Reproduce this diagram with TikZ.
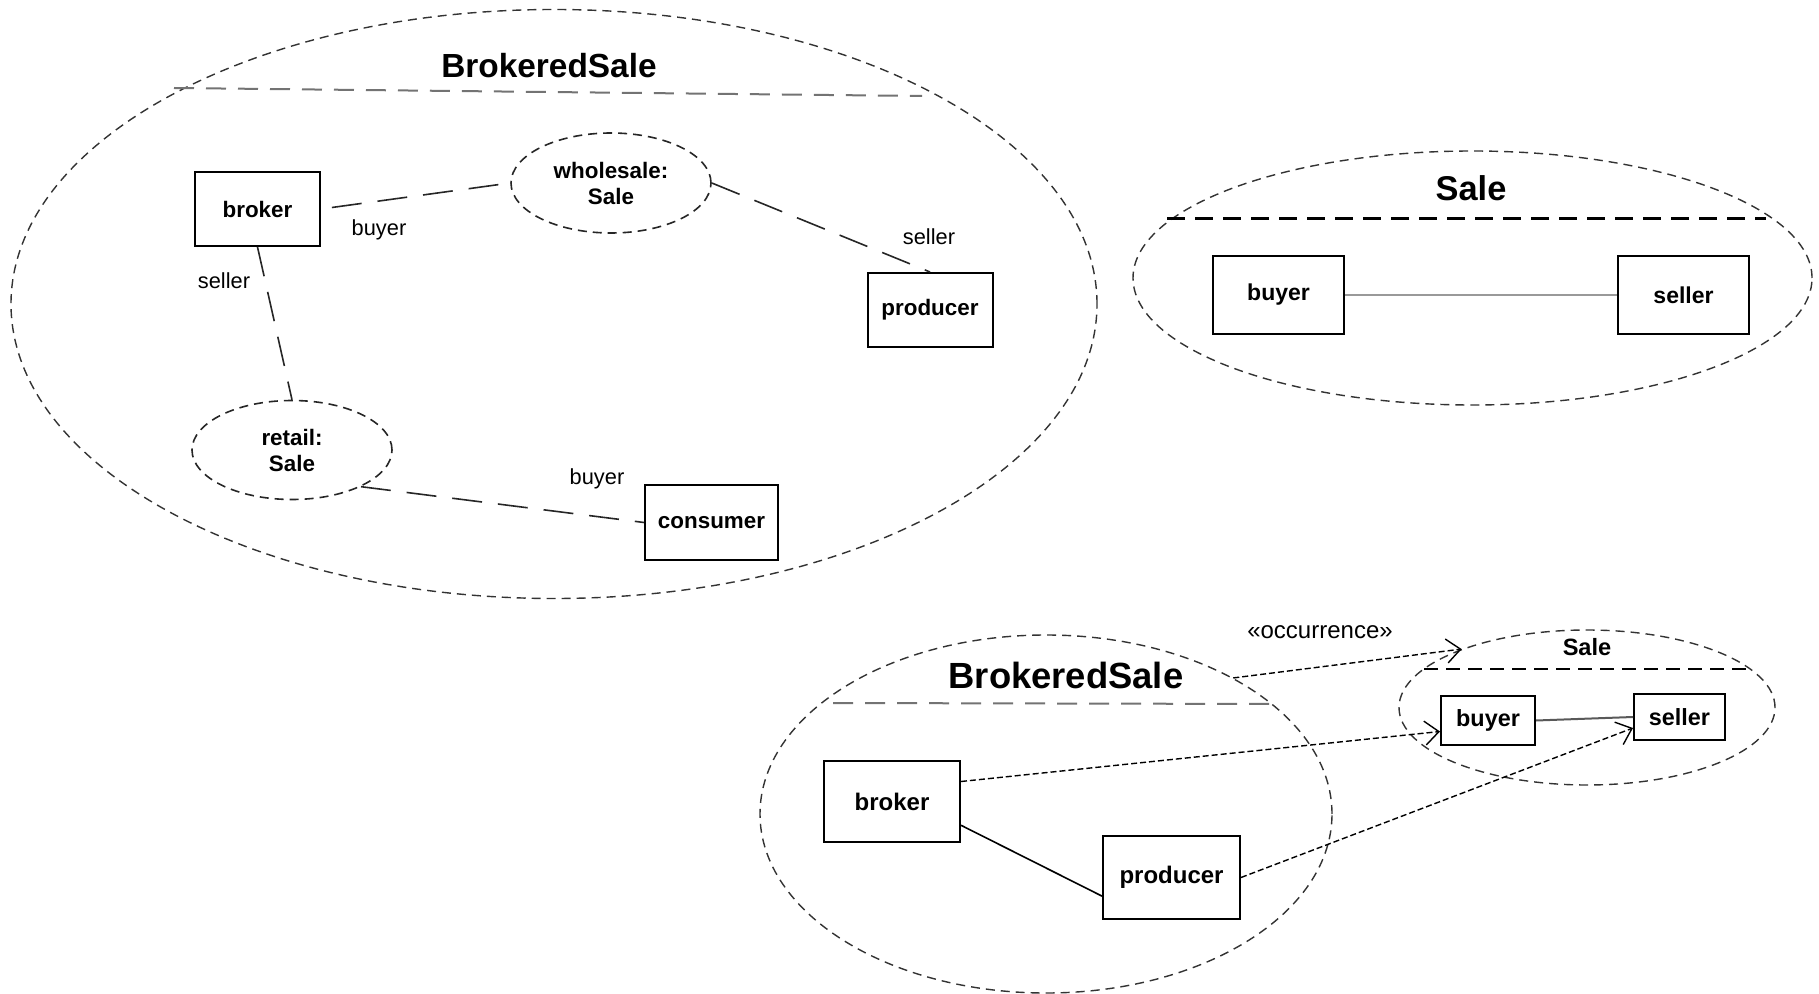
\documentclass[tikz,border=0pt]{standalone}
\usepackage{fontspec}
\setmainfont{Liberation Sans}
\usetikzlibrary{shapes.geometric, arrows.meta}

\begin{document}
\begin{tikzpicture}[x=0.5pt, y=-0.5pt,
  part/.style={draw, line width=1pt, inner sep=0pt, font=\fontsize{11.2}{13}\selectfont\bfseries},
  usage/.style={ellipse, draw=black!85, line width=0.8pt, dash pattern=on 4.5pt off 3pt, inner sep=0pt, align=center, font=\fontsize{11.2}{13}\selectfont\bfseries},
  frame/.style={ellipse, draw=black!80, line width=0.7pt, dash pattern=on 4.5pt off 3pt, inner sep=0pt},
  role/.style={inner sep=0pt, font=\fontsize{10.9}{13}\selectfont},
  roleline/.style={black!85, line width=0.8pt, dash pattern=on 15pt off 8pt},
  realize/.style={line width=0.7pt, dash pattern=on 3pt off 1.5pt, -{Straight Barb[length=7pt,width=12pt]}}
]
\useasboundingbox (0,0) rectangle (1819,994);

% BrokeredSale, internal structure
\node [frame, minimum width=543pt, minimum height=294.5pt] (bs) at (554,304) {};
\node [font=\fontsize{16.7}{20}\selectfont\bfseries] (bsTitle) at (549,66) {BrokeredSale};
\draw [black!55, line width=1pt, dash pattern=on 10pt off 6pt] (174,88) -- (922,96);

\node [part, minimum width=62.5pt, minimum height=37pt] (broker) at (257.5,209) {broker};
\node [usage, minimum width=100pt, minimum height=50pt] (wholesale) at (611,183) {wholesale:\\Sale};
\node [part, minimum width=62.5pt, minimum height=37pt] (producer) at (930,310) {producer};
\node [usage, minimum width=100pt, minimum height=49.5pt] (retail) at (292,450) {retail:\\Sale};
\node [part, minimum width=66.5pt, minimum height=37.5pt] (consumer) at (711.5,522.5) {consumer};

\draw [roleline, shorten <=5.5pt] (broker.east) -- (wholesale.west);
\draw [roleline] (wholesale.east) -- (producer.north);
\draw [roleline] (broker.south) -- (retail.north);
\draw [roleline] (retail.-28) -- (consumer.west);

\foreach \n/\x/\y/\t in {rBuyerW/379/230/buyer, rSellerW/929/237/seller,
                         rSellerR/224/281/seller, rBuyerR/597/479/buyer}
  \node [role] (\n) at (\x,\y) {\t};

% Sale
\node [frame, minimum width=339.5pt, minimum height=127pt] (sale) at (1472.5,278) {};
\node [font=\fontsize{17.2}{20}\selectfont\bfseries] (saleTitle) at (1471,188) {Sale};
\draw [line width=1.5pt, dash pattern=on 9pt off 5pt] (1167,219) -- (1766,219);
\node [part, minimum width=65.5pt, minimum height=39pt, font=\fontsize{11.5}{13}\selectfont\bfseries] (buyer) at (1278.5,295) {buyer};
\node [part, minimum width=65.5pt, minimum height=39pt, font=\fontsize{11.5}{13}\selectfont\bfseries] (seller) at (1683.5,295) {seller};
\draw [black!40, line width=1.2pt] (buyer) -- (seller);

% occurrence of Sale inside BrokeredSale
\node [frame, minimum width=286pt, minimum height=179pt] (bs2) at (1046,814) {};
\node [font=\fontsize{18.2}{22}\selectfont\bfseries] (bs2Title) at (1066,675) {BrokeredSale};
\draw [black!55, line width=1pt, dash pattern=on 10pt off 6pt] (833,703) -- (1280,704);
\node [part, minimum width=68pt, minimum height=40.5pt, font=\fontsize{12}{14}\selectfont\bfseries] (broker2) at (892,801.5) {broker};
\node [part, minimum width=68.5pt, minimum height=41.5pt, font=\fontsize{12}{14}\selectfont\bfseries] (producer2) at (1171.5,877.5) {producer};
\draw [line width=0.8pt] (broker2.-19) -- (producer2.195);

\node [frame, minimum width=188pt, minimum height=77.5pt] (sale2) at (1587,707.5) {};
\node [font=\fontsize{11.8}{14}\selectfont\bfseries] (sale2Title) at (1587,647) {Sale};
\draw [line width=1pt, dash pattern=on 7pt off 4pt] (1424,669) -- (1752,669);
\node [part, minimum width=47pt, minimum height=24.5pt, font=\fontsize{11.7}{14}\selectfont\bfseries] (buyer2) at (1488,720.5) {buyer};
\node [part, minimum width=45.5pt, minimum height=23pt, font=\fontsize{11.7}{14}\selectfont\bfseries] (seller2) at (1679.5,717) {seller};
\draw [black!65, line width=1pt] (buyer2.east) -- (seller2.west);

\draw [realize] (bs2.36) -- (sale2.155);
\node [role, font=\fontsize{12}{14}\selectfont] (occ) at (1320,632) {«occurrence»};
\draw [realize] ([yshift=10pt]broker2.east) -- ([yshift=-5.5pt]buyer2.west);
\draw [realize] (producer2.east) -- ([yshift=-5.5pt]seller2.west);

\end{tikzpicture}
\end{document}
